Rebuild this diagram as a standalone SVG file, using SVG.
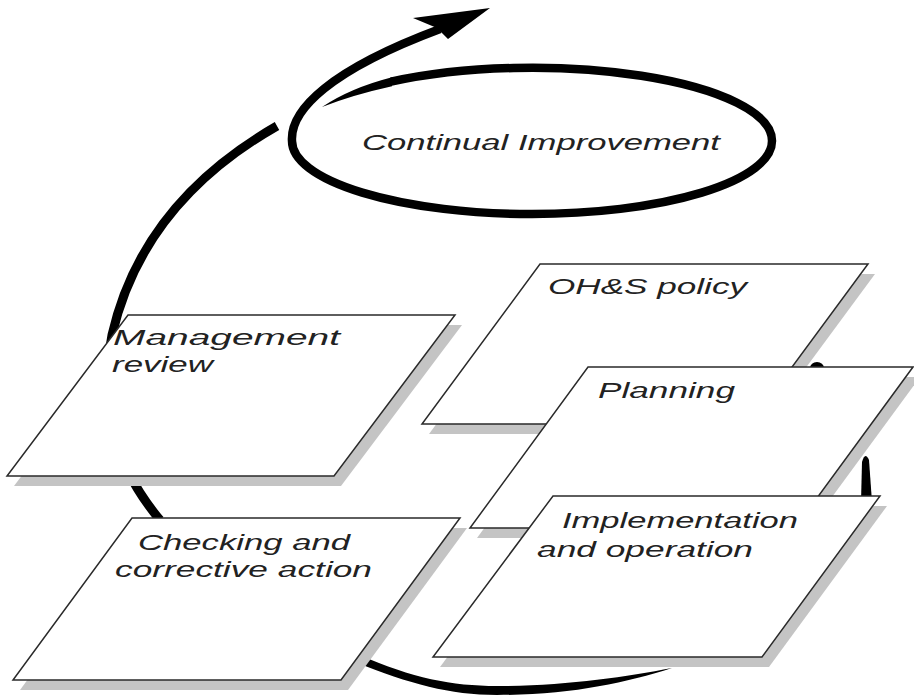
<svg xmlns="http://www.w3.org/2000/svg" width="914" height="697" viewBox="0 0 914 697">
<defs>
<style>
.box{fill:#fff;stroke:#2a2a2a;stroke-width:1.5;stroke-linejoin:miter}
.shadow{fill:#c4c4c4}
.lbl{font-family:"Liberation Sans",Arial,sans-serif;font-style:italic;font-size:22px;fill:#222}
.arc{fill:none;stroke:#000;stroke-width:9}
.solid{fill:#000;stroke:none}
</style>
</defs>
<rect width="914" height="697" fill="#fff"/>
<g id="connectors">
<path class="solid" d="M 322 107 Q 350 88 392 77.2 L 392 86.2 Q 352 95 322 107 Z"/>
<path class="arc" d="M 391 81.7 A 240 73 0 0 1 772 141 A 240 73 0 0 1 292 141 C 290 110 330 70 440 29" style="stroke-width:8.5"/>
<polygon class="solid" points="413,18 490,8 448,39 437,28"/>
<path class="arc" d="M 277 126 C 200 170 135 235 112 335 C 100 400 110 460 160 520"/>
<path class="solid" d="M 355 662 C 410 684 450 695 497 695 C 570 695 625 683 672 668 C 625 677 565 686 497 686 C 452 686 412 678 360 655 Z"/>
<path class="solid" d="M 861 502 L 862 462 Q 865 451 869 460 L 872 502 Z"/>
<ellipse class="solid" cx="817" cy="368" rx="7" ry="6"/>
</g>
<g id="continual-improvement">
<text class="lbl" x="362" y="150" textLength="358" lengthAdjust="spacingAndGlyphs">Continual Improvement</text>
</g>
<g id="ohs-policy">
<polygon class="shadow" points="547,274 875,274 757,434 429,434"/>
<polygon class="box" points="540,264 868,264 750,424 422,424"/>
<text class="lbl" x="548" y="294" textLength="199" lengthAdjust="spacingAndGlyphs">OH&amp;S policy</text>
</g>
<g id="planning">
<polygon class="shadow" points="595,377 920,377 802,538 477,538"/>
<polygon class="box" points="588,367 913,367 795,528 470,528"/>
<text class="lbl" x="598" y="398" textLength="137" lengthAdjust="spacingAndGlyphs">Planning</text>
</g>
<g id="implementation">
<polygon class="shadow" points="560,506 887,506 769,667 440,667"/>
<polygon class="box" points="553,496 880,496 762,657 433,657"/>
<text class="lbl" x="562" y="528" textLength="236" lengthAdjust="spacingAndGlyphs">Implementation</text>
<text class="lbl" x="537" y="557" textLength="216" lengthAdjust="spacingAndGlyphs">and operation</text>
</g>
<g id="management-review">
<polygon class="shadow" points="135,325 462,325 341,486 14,486"/>
<polygon class="box" points="128,315 455,315 334,476 7,476"/>
<text class="lbl" x="113" y="345" textLength="227" lengthAdjust="spacingAndGlyphs">Management</text>
<text class="lbl" x="112" y="372" textLength="101" lengthAdjust="spacingAndGlyphs">review</text>
</g>
<g id="checking">
<polygon class="shadow" points="139,528 467,528 348,690 20,690"/>
<polygon class="box" points="132,518 460,518 341,680 13,680"/>
<text class="lbl" x="138" y="550" textLength="212" lengthAdjust="spacingAndGlyphs">Checking and</text>
<text class="lbl" x="115" y="577" textLength="257" lengthAdjust="spacingAndGlyphs">corrective action</text>
</g>
</svg>
